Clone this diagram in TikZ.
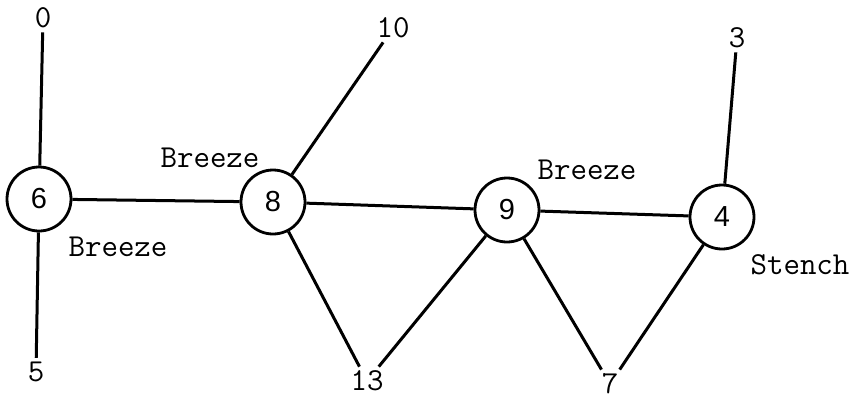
\documentclass[tikz,border=0pt]{standalone}
\usepackage{fontspec}
\setsansfont{Liberation Sans}
\usetikzlibrary{positioning}

\begin{document}
\begin{tikzpicture}[x=1pt,y=-1pt,
  room/.style={circle,draw,line width=2.8pt,minimum size=64pt,inner sep=0pt,
    font=\fontsize{29}{31}\selectfont\sffamily},
  cave/.style={font=\fontsize{32}{34}\selectfont\ttfamily,inner sep=4pt},
  percept/.style={font=\fontsize{32}{34}\selectfont\ttfamily},
  tunnel/.style={line width=3pt}]
  \useasboundingbox (0,0) rectangle (854,400);

  % rooms
  \node[room] (r6) at (39,199) {6};
  \node[room] (r8) at (273,202) {8};
  \node[room] (r9) at (507,210) {9};
  \node[room] (r4) at (722,217) {4};

  % neighbouring caves
  \node[cave] (c0) at (43,18) {0};
  \node[cave] (c5) at (36,372) {5};
  \node[cave] (c10) at (393,28) {10};
  \node[cave] (c3) at (737,38) {3};
  \node[cave] (c13) at (367,381) {13};
  \node[cave] (c7) at (610,384) {7};

  % percepts
  \node[percept] (b6) at (118,247) {Breeze};
  \node[percept] (b8) at (210,158) {Breeze};
  \node[percept] (b9) at (587,170) {Breeze};
  \node[percept] (s4) at (800,265) {Stench};

  \draw[tunnel] (c0) -- (r6);
  \draw[tunnel] (r6) -- (c5);
  \draw[tunnel] (r6) -- (r8);
  \draw[tunnel] (r8) -- (c10);
  \draw[tunnel] (r8) -- (r9);
  \draw[tunnel] (r8) -- (c13);
  \draw[tunnel] (r9) -- (c13);
  \draw[tunnel] (r9) -- (r4);
  \draw[tunnel] (r9) -- (c7);
  \draw[tunnel] (r4) -- (c7);
  \draw[tunnel] (r4) -- (c3);
\end{tikzpicture}
\end{document}
